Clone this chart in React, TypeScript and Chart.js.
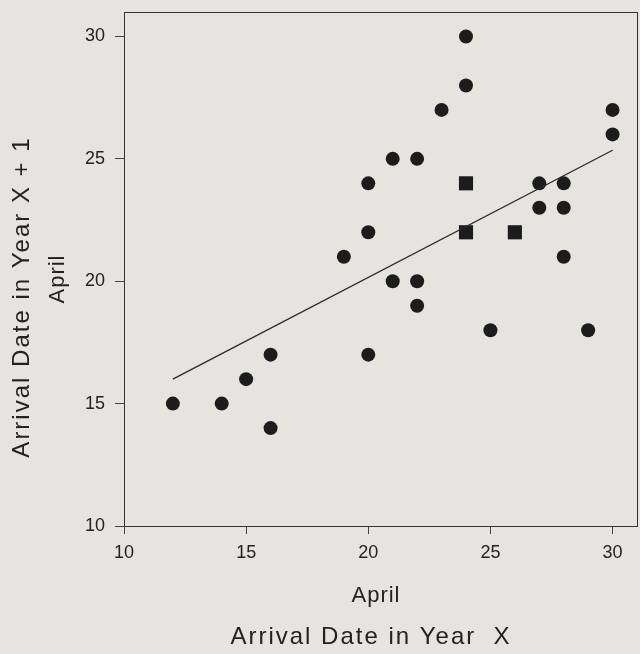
import React, { useEffect, useRef } from "react";
import { Chart, registerables } from "chart.js";
Chart.register(...registerables);

const circleX = [12, 14, 15, 16, 16, 19, 20, 20, 20, 21, 21, 22, 22, 22, 23, 24, 24, 25, 27, 27, 28, 28, 28, 29, 30, 30];
const circleY = [15, 15, 16, 17, 14, 21, 24, 22, 17, 25, 20, 25, 20, 19, 27, 30, 28, 18, 24, 23, 24, 23, 21, 18, 27, 26];
const squareX = [24, 24, 26];
const squareY = [24, 22, 22];
const fitX = [12, 30];
const fitY = [16.0, 25.35];
const xTicks = [10, 15, 20, 25, 30];
const yTicks = [10, 15, 20, 25, 30];
const xUnitLabel = "April";
const xTitle = "Arrival Date in Year  X";
const yTitle = "Arrival Date in Year X + 1";
const yUnitLabel = "April";

const INK = "#222222";
const FONT = "'Liberation Sans', Arial, sans-serif";

export default function App() {
  const ref = useRef<HTMLCanvasElement | null>(null);
  useEffect(() => {
    const canvas = ref.current;
    if (!canvas) return;
    const titlesPlugin = {
      id: "titles",
      afterDraw(chart: any) {
        const ctx = chart.ctx;
        const a = chart.chartArea;
        ctx.save();
        ctx.strokeStyle = "#333333";
        ctx.lineWidth = 1;
        ctx.strokeRect(Math.round(a.left) + 0.5, Math.round(a.top) + 0.5, Math.round(a.right - a.left), Math.round(a.bottom - a.top));
        ctx.fillStyle = INK;
        ctx.textAlign = "center";
        ctx.textBaseline = "middle";
        ctx.letterSpacing = "1px";
        ctx.font = `22px ${FONT}`;
        ctx.fillText(xUnitLabel, 376, 596);
        ctx.letterSpacing = "2px";
        ctx.font = `24px ${FONT}`;
        ctx.fillText(xTitle, 371, 637);
        ctx.save();
        ctx.translate(22, 297);
        ctx.rotate(-Math.PI / 2);
        ctx.fillText(yTitle, 0, 0);
        ctx.restore();
        ctx.letterSpacing = "1px";
        ctx.save();
        ctx.translate(58, 279);
        ctx.rotate(-Math.PI / 2);
        ctx.font = `22px ${FONT}`;
        ctx.fillText(yUnitLabel, 0, 0);
        ctx.restore();
        ctx.restore();
      },
    };
    const chart = new Chart(canvas, {
      type: "scatter",
      data: {
        datasets: [
          {
            type: "line",
            data: fitX.map((x, i) => ({ x, y: fitY[i] })),
            borderColor: "#2a2a2a",
            borderWidth: 1.3,
            pointRadius: 0,
            fill: false,
          } as any,
          {
            data: circleX.map((x, i) => ({ x, y: circleY[i] })),
            pointStyle: "circle",
            pointRadius: 7,
            backgroundColor: "#1c1c1c",
            borderColor: "#1c1c1c",
            borderWidth: 0,
          },
          {
            data: squareX.map((x, i) => ({ x, y: squareY[i] })),
            pointStyle: "rect",
            pointRadius: 10,
            backgroundColor: "#1c1c1c",
            borderColor: "#1c1c1c",
            borderWidth: 0,
          },
        ],
      },
      options: {
        animation: false,
        responsive: false,
        devicePixelRatio: 1,
        layout: { padding: { left: 0, top: 12, right: 0, bottom: 0 } },
        plugins: { legend: { display: false }, tooltip: { enabled: false } },
        scales: {
          x: {
            type: "linear",
            min: 10,
            max: 31,
            afterBuildTicks: (s: any) => {
              s.ticks = xTicks.map((v) => ({ value: v }));
            },
            afterFit: (s: any) => {
              s.height = 654 - 526;
              s.paddingLeft = 0;
              s.paddingRight = 0;
            },
            grid: { drawOnChartArea: false, drawTicks: true, tickLength: 8, tickColor: "#444444" },
            border: { display: false },
            ticks: { color: INK, font: { family: FONT, size: 18 }, padding: 8, maxRotation: 0 },
          },
          y: {
            type: "linear",
            min: 10,
            max: 31,
            afterBuildTicks: (s: any) => {
              s.ticks = yTicks.map((v) => ({ value: v }));
            },
            afterFit: (s: any) => {
              s.width = 124;
              s.paddingTop = 0;
              s.paddingBottom = 0;
            },
            grid: { drawOnChartArea: false, drawTicks: true, tickLength: 9, tickColor: "#444444" },
            border: { display: false },
            ticks: { color: INK, font: { family: FONT, size: 18 }, padding: 10 },
          },
        },
      },
      plugins: [titlesPlugin],
    });
    return () => chart.destroy();
  }, []);
  return (
    <div style={{ position: "fixed", inset: 0, background: "#e6e4de", overflow: "hidden" }}>
      <canvas ref={ref} width={647} height={654} style={{ position: "absolute", left: 0, top: 0, width: 647, height: 654 }} />
    </div>
  );
}
